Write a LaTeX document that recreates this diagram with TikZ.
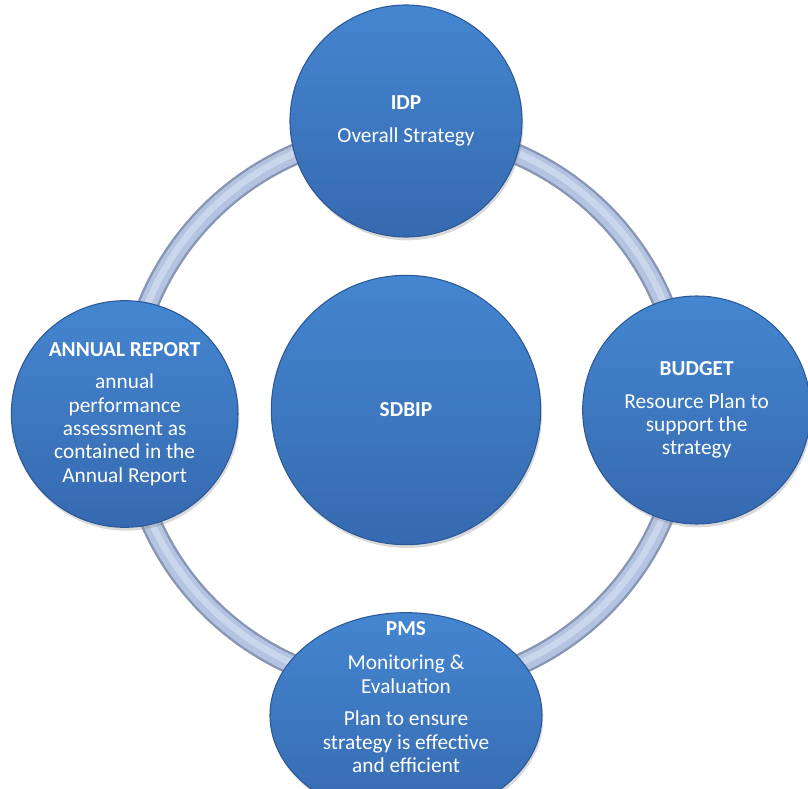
\documentclass[tikz,border=0pt]{standalone}
\usepackage{fontspec}
\setmainfont{Carlito}
\usetikzlibrary{positioning,shapes.geometric,shadows,backgrounds}
\definecolor{discTop}{RGB}{68,134,208}
\definecolor{discBottom}{RGB}{54,106,176}
\definecolor{discRim}{RGB}{44,88,152}
\definecolor{ringEdge}{RGB}{134,150,180}
\definecolor{ringFill}{RGB}{180,196,224}
\definecolor{ringLight}{RGB}{202,214,236}

\begin{document}
\begin{tikzpicture}%
  [on grid,
   node distance=216pt,
   every node/.style={text=white, align=center, font=\fontsize{16}{17.5}\selectfont},
   disc/.style={circle, inner sep=0pt, draw=discRim, thick,
                top color=discTop, bottom color=discBottom,
                drop shadow={shadow xshift=1pt, shadow yshift=-2.5pt, opacity=0.3}}
  ]
\useasboundingbox (-304.5pt,-284.25pt) rectangle (301.5pt,307.5pt);

\node[disc, minimum size=202pt] (sdbip)                               {\textbf{SDBIP}};
\node[disc, minimum size=174pt] (idp)    [above=216.75pt of sdbip]     {\textbf{IDP}\\[7pt]Overall Strategy};
\node[disc, minimum size=170pt] (report) [below left=3pt and 211pt of sdbip]
  {\textbf{ANNUAL REPORT}\\[7pt]annual\\performance\\assessment as\\contained in the\\Annual Report};
\node[disc, minimum size=171pt] (budget) [right=218pt of sdbip]        {\textbf{BUDGET}\\[7pt]Resource Plan to\\support the\\strategy};
\node[disc, ellipse, minimum width=204pt, minimum height=154pt] (pms) [below=229pt of sdbip] {};
\node (pmstext) [above=13.5pt of pms]
  {\textbf{PMS}\\[8pt]Monitoring \&\\Evaluation\\[7pt]Plan to ensure\\strategy is effective\\and efficient};

% ring through the outer discs
\begin{scope}[on background layer]
  \draw[gray!35, line width=16pt, xshift=1.5pt, yshift=-2.5pt] (sdbip.center) circle (209pt);
  \draw[ringEdge, line width=16pt]  (sdbip.center) circle (209pt);
  \draw[ringFill, line width=12.5pt]  (sdbip.center) circle (209pt);
  \draw[ringLight, line width=5pt]  ([yshift=1pt]sdbip.center) circle (209pt);
\end{scope}
\end{tikzpicture}
\end{document}
